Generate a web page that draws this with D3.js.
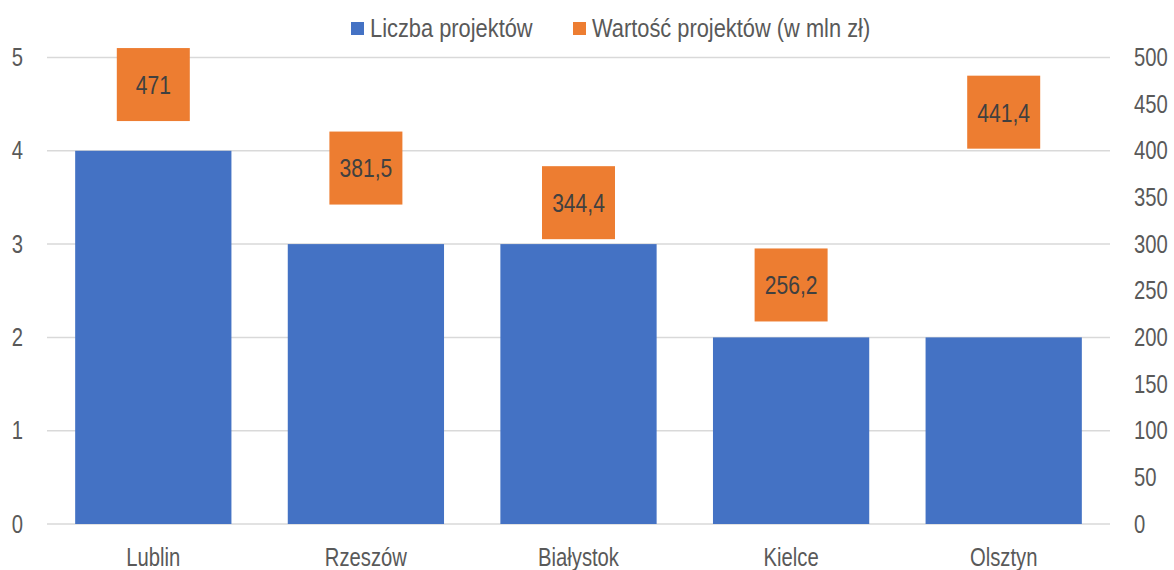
<!DOCTYPE html>
<html>
<head>
<meta charset="utf-8">
<script src="https://cdn.jsdelivr.net/npm/d3@7"></script>
<style>
  html, body { margin: 0; padding: 0; background: #fff; }
  svg { display: block; }
  text { font-family: "Liberation Sans", Arial, sans-serif; }
</style>
</head>
<body>
<svg id="chart" width="1174" height="570"></svg>
<script>
// Cities and values
const cities = ["Lublin", "Rzeszów", "Białystok", "Kielce", "Olsztyn"];
const projectCounts = [4, 3, 3, 2, 2];
const projectValues = [471, 381.5, 344.4, 256.2, 441.4];
const leftTicks = [0, 1, 2, 3, 4, 5];
const rightTicks = [0, 50, 100, 150, 200, 250, 300, 350, 400, 450, 500];
const seriesNames = ["Liczba projektów", "Wartość projektów (w mln zł)"];

const BLUE = "#4472C4", ORANGE = "#ED7D31", GRID = "#d9d9d9", AXIS_TEXT = "#595959", LABEL_TEXT = "#404040";
const NARROW = 0.81; // horizontal squeeze giving a narrow sans look

const svg = d3.select("#chart");
const plot = { left: 47, right: 1110, top: 57.5, bottom: 524 };

const x = d3.scaleBand().domain(cities).range([plot.left, plot.right]).paddingInner(0.265).paddingOuter(0.1325);
const yL = d3.scaleLinear().domain([0, 5]).range([plot.bottom, plot.top]);
const yR = d3.scaleLinear().domain([0, 500]).range([plot.bottom, plot.top]);

// squeeze axis tick texts horizontally around their tick origin
function narrowTicks(g) {
  g.selectAll("text").each(function () {
    const t = d3.select(this);
    const x0 = +t.attr("x") || 0;
    t.attr("x", x0 / NARROW).attr("transform", `scale(${NARROW},1)`);
  });
}

// Gridlines
svg.append("g").selectAll("line").data(leftTicks).join("line")
  .attr("x1", plot.left).attr("x2", plot.right)
  .attr("y1", d => yL(d)).attr("y2", d => yL(d))
  .attr("stroke", GRID).attr("stroke-width", 1.5);

// Left axis
const leftAxis = svg.append("g").attr("transform", `translate(${plot.left},0)`)
  .call(d3.axisLeft(yL).tickValues(leftTicks).tickFormat(d3.format("d")).tickSize(0).tickPadding(24));
leftAxis.select(".domain").remove();
leftAxis.selectAll("text").attr("fill", AXIS_TEXT).attr("font-size", 25).attr("font-family", null);
narrowTicks(leftAxis);

// Right axis
const rightAxis = svg.append("g").attr("transform", `translate(${plot.right},0)`)
  .call(d3.axisRight(yR).tickValues(rightTicks).tickFormat(d3.format("d")).tickSize(0).tickPadding(24));
rightAxis.select(".domain").remove();
rightAxis.selectAll("text").attr("fill", AXIS_TEXT).attr("font-size", 25).attr("font-family", null);
narrowTicks(rightAxis);

// Category axis
const bottomAxis = svg.append("g").attr("transform", `translate(0,${plot.bottom})`)
  .call(d3.axisBottom(x).tickSize(0).tickPadding(24));
bottomAxis.select(".domain").remove();
bottomAxis.selectAll("text").attr("fill", AXIS_TEXT).attr("font-size", 25).attr("font-family", null);
narrowTicks(bottomAxis);

// Bars: number of projects
svg.append("g").selectAll("rect").data(cities).join("rect")
  .attr("x", d => x(d))
  .attr("width", x.bandwidth())
  .attr("y", (d, i) => yL(projectCounts[i]))
  .attr("height", (d, i) => yL(0) - yL(projectCounts[i]))
  .attr("fill", BLUE);

// Value labels: project value in mln zł, boxed at the value position
const boxW = 73, boxH = 73;
const labels = svg.append("g").selectAll("g").data(cities).join("g")
  .attr("transform", (d, i) => `translate(${x(d) + x.bandwidth() / 2},${yR(projectValues[i])})`);
labels.append("rect")
  .attr("x", -boxW / 2).attr("y", -boxH / 2)
  .attr("width", boxW).attr("height", boxH)
  .attr("fill", ORANGE);
labels.append("text")
  .attr("text-anchor", "middle").attr("dy", "0.36em")
  .attr("transform", `scale(${NARROW},1)`)
  .attr("font-size", 26).attr("fill", LABEL_TEXT)
  .text((d, i) => d3.format(".1~f")(projectValues[i]).replace(".", ","));

// Legend
const legendItems = [
  { name: seriesNames[0], color: BLUE, x: 351 },
  { name: seriesNames[1], color: ORANGE, x: 573 }
];
const legend = svg.append("g").selectAll("g").data(legendItems).join("g")
  .attr("transform", d => `translate(${d.x},0)`);
legend.append("rect").attr("x", 0).attr("y", 22).attr("width", 13).attr("height", 13).attr("fill", d => d.color);
legend.append("text").attr("x", 0).attr("y", 37.5)
  .attr("transform", `translate(19,0) scale(0.84,1)`)
  .attr("font-size", 26).attr("fill", AXIS_TEXT).text(d => d.name);
</script>
</body>
</html>
